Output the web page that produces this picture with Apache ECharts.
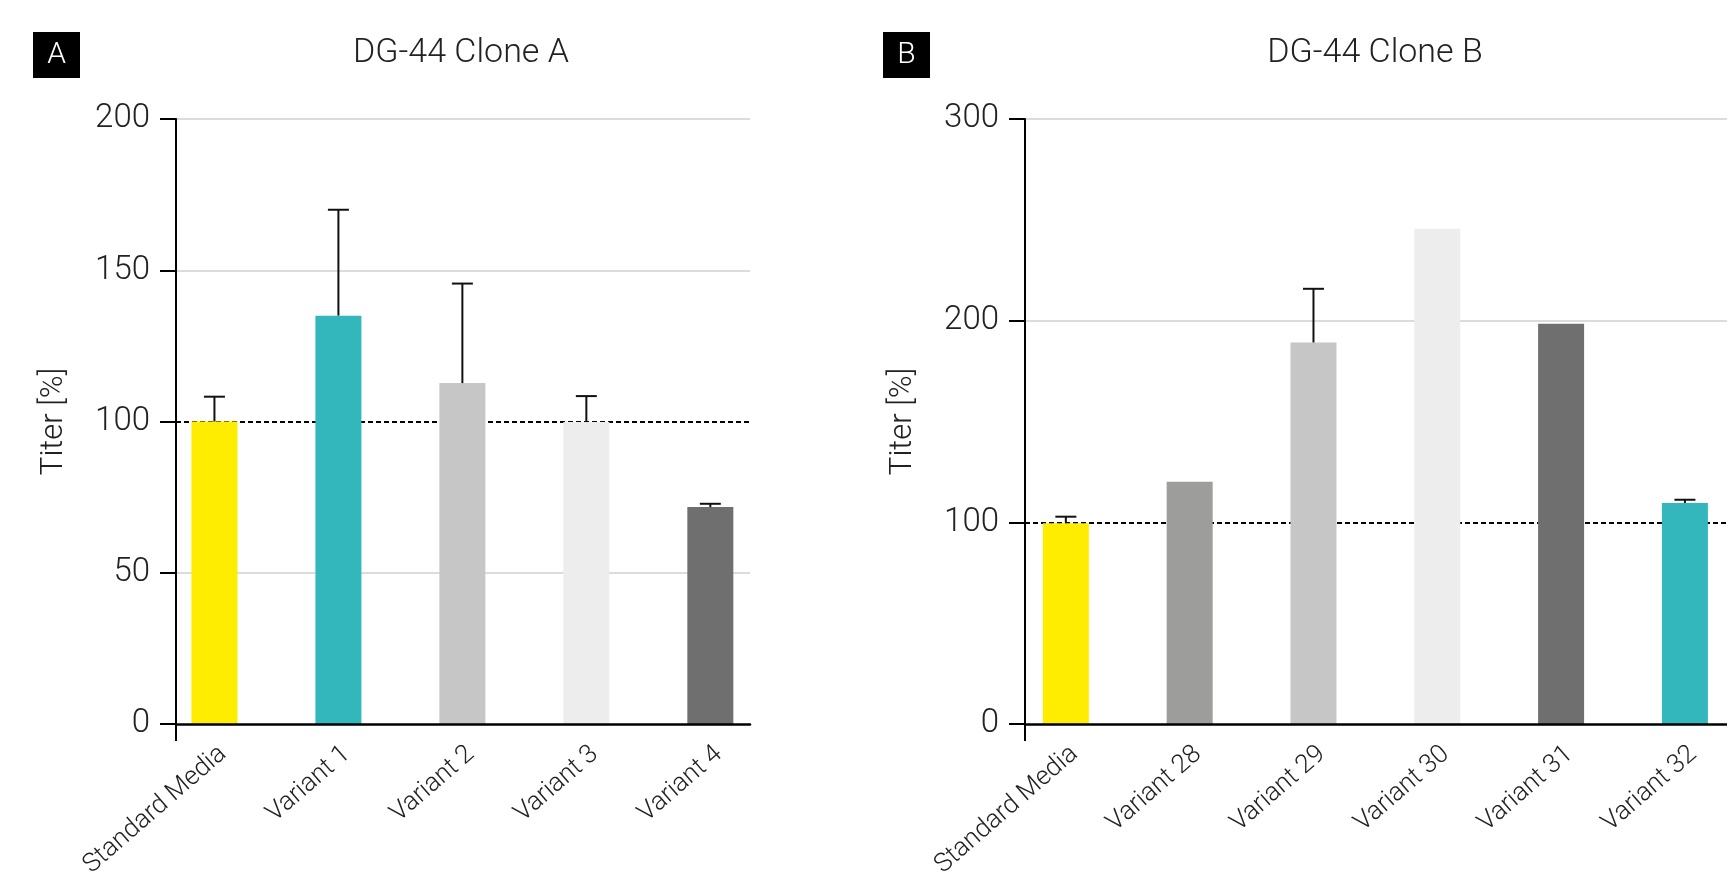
<!DOCTYPE html>
<html>
<head>
<meta charset="utf-8">
<script src="https://cdn.jsdelivr.net/npm/echarts@6/dist/echarts.min.js"></script>
<style>
html,body{margin:0;padding:0;background:#fff;}
#c{width:1727px;height:873px;}
</style>
</head>
<body>
<div id="c"></div>
<script>
// ---- data ----
const titleA = 'DG-44 Clone A';
const titleB = 'DG-44 Clone B';
const yName = 'Titer [%]';
const catsA = ['Standard Media', 'Variant 1', 'Variant 2', 'Variant 3', 'Variant 4'];
const valsA = [100, 135, 112.7, 99.8, 71.7];
const errA = [8.2, 35, 32.9, 8.6, 1.1];
const colorsA = ['#FFED00', '#33B7BC', '#C6C6C6', '#EDEDED', '#706F6F'];

const catsB = ['Standard Media', 'Variant 28', 'Variant 29', 'Variant 30', 'Variant 31', 'Variant 32'];
const valsB = [99.6, 120.1, 189.2, 245.6, 198.5, 109.6];
const errB = [3.2, 0, 26.6, 0, 0, 1.6];
const colorsB = ['#FFED00', '#9D9D9C', '#C6C6C6', '#EDEDED', '#706F6F', '#33B7BC'];

const yMaxA = 200, yStepA = 50;
const yMaxB = 300, yStepB = 100;
const gridLinesA = [50, 150, 200];
const gridLinesB = [200, 300];
const refLine = 100;

// ---- chart ----
const FONT = 'Roboto';
const chart = echarts.init(document.getElementById('c'), null, {renderer: 'canvas'});

function barSeries(cats, vals, colors, idx) {
  return {
    type: 'bar', xAxisIndex: idx, yAxisIndex: idx, z: 3,
    barWidth: 46,
    data: vals.map((v, i) => ({value: [i, v], itemStyle: {color: colors[i]}})),
    silent: true
  };
}
function errSeries(vals, errs, idx) {
  return {
    type: 'custom', xAxisIndex: idx, yAxisIndex: idx, z: 4, silent: true,
    data: vals.map((v, i) => [i, v, errs[i]]),
    renderItem: function (params, api) {
      const x = api.value(0), v = api.value(1), e = api.value(2);
      if (!e) return null;
      const p0 = api.coord([x, v]);
      const p1 = api.coord([x, v + e]);
      const st = {stroke: '#111', lineWidth: 2};
      return {
        type: 'group', children: [
          {type: 'line', shape: {x1: p0[0], y1: p0[1], x2: p1[0], y2: p1[1]}, style: st},
          {type: 'line', shape: {x1: p1[0] - 10.5, y1: p1[1], x2: p1[0] + 10.5, y2: p1[1]}, style: st}
        ]
      };
    }
  };
}
function lineSeries(gridVals, idx) {
  return {
    type: 'line', xAxisIndex: idx, yAxisIndex: idx, z: 1, data: [], silent: true,
    markLine: {
      z: 1,
      silent: true, symbol: 'none', animation: false,
      label: {show: false},
      data: gridVals.map(g => ({yAxis: g, lineStyle: {color: '#DCDCDC', width: 2, type: 'solid'}}))
        .concat([{yAxis: refLine, lineStyle: {color: '#000', width: 2, type: [5, 3]}}])
    }
  };
}
function xAxis(cats, idx, min, max) {
  return {
    type: 'value', gridIndex: idx, min: min, max: max, z: 10,
    axisLine: {show: true, onZero: false, lineStyle: {color: '#000', width: 2.5}},
    axisTick: {show: true, customValues: [min], length: 17, inside: false, lineStyle: {color: '#000', width: 2}},
    splitLine: {show: false},
    axisLabel: {
      customValues: cats.map((c, i) => i),
      formatter: v => cats[Math.round(v)],
      rotate: 41, margin: 17, verticalAlign: 'top',
      fontFamily: FONT, fontWeight: 300, fontSize: 26, color: '#222',
      hideOverlap: false
    }
  };
}
function yAxis(idx, max, step) {
  return {
    type: 'value', gridIndex: idx, min: 0, max: max, interval: step, z: 10,
    name: yName, nameLocation: 'middle', nameGap: 106, nameRotate: 90,
    nameTextStyle: {fontFamily: FONT, fontWeight: 300, fontSize: 31, color: '#222'},
    axisLine: {show: true, onZero: false, lineStyle: {color: '#000', width: 2}},
    axisTick: {show: true, length: 16, inside: false, lineStyle: {color: '#000', width: 2}},
    splitLine: {show: false},
    axisLabel: {margin: 26, fontFamily: FONT, fontWeight: 300, fontSize: 33, color: '#222'}
  };
}

const option = {
  animation: false,
  backgroundColor: '#fff',
  grid: [
    {left: 176, top: 119, width: 574, height: 605, containLabel: false, outerBoundsMode: 'none'},
    {left: 1025, top: 119, width: 702, height: 605, containLabel: false, outerBoundsMode: 'none'}
  ],
  xAxis: [xAxis(catsA, 0, -0.31, 4.32), xAxis(catsB, 1, -0.33, 5.34)],
  yAxis: [yAxis(0, yMaxA, yStepA), yAxis(1, yMaxB, yStepB)],
  series: [
    lineSeries(gridLinesA, 0), barSeries(catsA, valsA, colorsA, 0), errSeries(valsA, errA, 0),
    lineSeries(gridLinesB, 1), barSeries(catsB, valsB, colorsB, 1), errSeries(valsB, errB, 1)
  ],
  graphic: [
    {type: 'rect', shape: {x: 33, y: 32, width: 47, height: 46}, style: {fill: '#000'}},
    {type: 'text', x: 56.5, y: 55.5, style: {text: 'A', fill: '#fff', font: '300 30px ' + FONT, textAlign: 'center', textVerticalAlign: 'middle'}},
    {type: 'rect', shape: {x: 883, y: 32, width: 47, height: 46}, style: {fill: '#000'}},
    {type: 'text', x: 906.5, y: 55.5, style: {text: 'B', fill: '#fff', font: '300 30px ' + FONT, textAlign: 'center', textVerticalAlign: 'middle'}},
    {type: 'text', x: 461, y: 53, style: {text: titleA, fill: '#222', font: '300 34px ' + FONT, textAlign: 'center', textVerticalAlign: 'middle'}},
    {type: 'text', x: 1375, y: 53, style: {text: titleB, fill: '#222', font: '300 34px ' + FONT, textAlign: 'center', textVerticalAlign: 'middle'}}
  ]
};
chart.setOption(option);
</script>
</body>
</html>
